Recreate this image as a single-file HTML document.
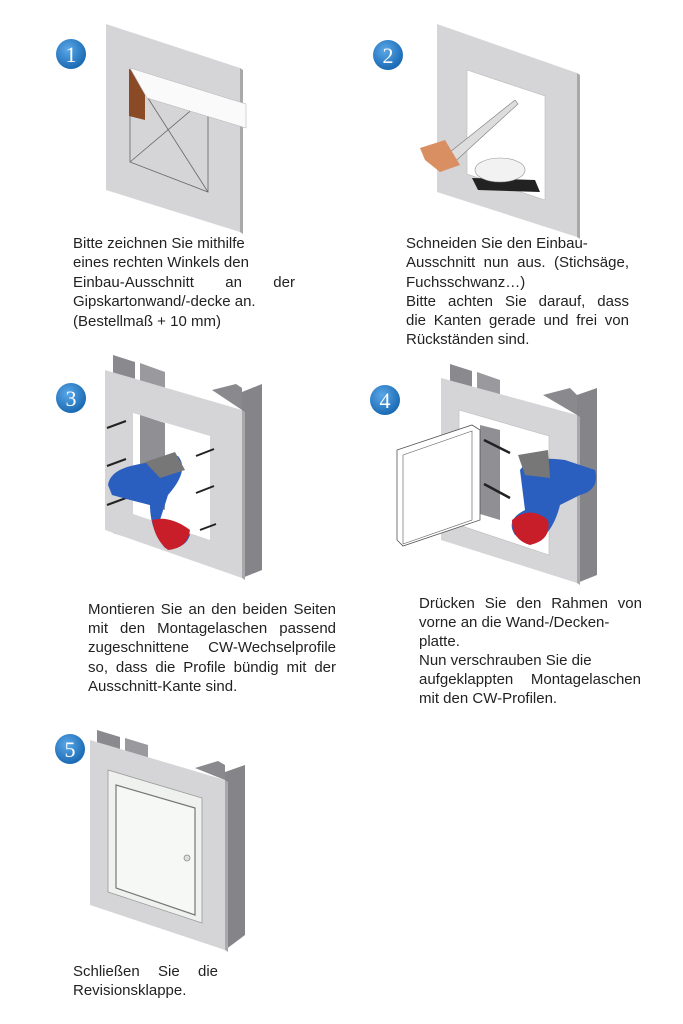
<!DOCTYPE html>
<html><head><meta charset="utf-8"><style>
body{margin:0;background:#fff;width:683px;height:1024px;position:relative;overflow:hidden;font-family:"Liberation Sans",sans-serif;}
svg{position:absolute;left:0;top:0}
.t{position:absolute;font-size:15px;line-height:19.4px;color:#222;white-space:nowrap}
.j{white-space:normal;text-align:justify;text-align-last:justify}
</style></head><body>
<svg width="683" height="1024" viewBox="0 0 683 1024">
<defs>
<radialGradient id="cg" cx="40%" cy="35%" r="70%"><stop offset="0" stop-color="#5aa8e8"/><stop offset="1" stop-color="#1565b0"/></radialGradient>
</defs>
<g font-family="Liberation Serif" font-size="22" fill="#fff" text-anchor="middle">
<circle cx="71" cy="54" r="15" fill="url(#cg)"/><text x="71" y="62">1</text>
<circle cx="388" cy="55" r="15" fill="url(#cg)"/><text x="388" y="63">2</text>
<circle cx="71" cy="398" r="15" fill="url(#cg)"/><text x="71" y="406">3</text>
<circle cx="385" cy="400" r="15" fill="url(#cg)"/><text x="385" y="408">4</text>
<circle cx="70" cy="749" r="15" fill="url(#cg)"/><text x="70" y="757">5</text>
</g>
<!-- Panel 1 -->
<polygon points="106,24 240,68 240,232 106,190" fill="#d5d4d7"/>
<polygon points="240,68 243,70 243,234 240,232" fill="#a9a9ac"/>
<polygon points="130,70 208,96 208,192 130,162" fill="none" stroke="#666" stroke-width="0.8"/>
<line x1="130" y1="70" x2="208" y2="192" stroke="#666" stroke-width="0.8"/>
<line x1="208" y1="96" x2="130" y2="162" stroke="#666" stroke-width="0.8"/>
<polygon points="129,69 145,74 145,120 129,116" fill="#8a4a26"/>
<polygon points="130,68 246,104 246,128 147,98" fill="#fafafa" stroke="#bbb" stroke-width="0.6"/>
<!-- Panel 2 -->
<polygon points="437,24 577,73 577,237 437,192" fill="#d5d4d7"/>
<polygon points="577,73 580,75 580,239 577,237" fill="#a9a9ac"/>
<polygon points="467,70 545,96 545,200 467,174" fill="#fff" stroke="#bbb" stroke-width="0.6"/>
<polygon points="440,160 515,100 518,104 448,168" fill="#ddd" stroke="#777" stroke-width="0.6"/>
<polygon points="420,148 445,140 460,165 440,172 425,160" fill="#d98f62"/>
<polygon points="472,178 535,180 540,192 478,190" fill="#222"/>
<ellipse cx="500" cy="170" rx="25" ry="12" fill="#f2f2f2" stroke="#999" stroke-width="0.6"/>
<!-- Panel 3 -->
<polygon points="113,355 135,362 135,540 113,533" fill="#8a8a8e"/>
<polygon points="140,363 165,372 165,545 140,538" fill="#9a9a9e"/>
<polygon points="212,390 236,384 242,388 242,410" fill="#8a8a8e"/>
<polygon points="242,392 262,384 262,570 242,578" fill="#858589"/>
<polygon points="105,370 242,410 242,578 105,530" fill="#d5d4d7"/>
<polygon points="242,410 245,412 245,580 242,578" fill="#a9a9ac"/>
<polygon points="133,413 210,436 210,540 133,514" fill="#fff"/>
<polygon points="140,415 165,423 165,510 140,502" fill="#909094"/>
<g stroke="#222" stroke-width="2">
<line x1="107" y1="428" x2="126" y2="421"/><line x1="107" y1="466" x2="126" y2="459"/><line x1="107" y1="505" x2="126" y2="498"/>
<line x1="196" y1="456" x2="214" y2="449"/><line x1="196" y1="493" x2="214" y2="486"/><line x1="200" y1="530" x2="216" y2="524"/>
</g>
<path d="M108,485 Q110,470 135,465 L178,456 Q190,470 168,495 L160,520 Q185,520 190,535 Q185,550 165,548 Q150,530 150,505 Q130,500 112,495 Z" fill="#2a5fbf"/>
<path d="M152,520 Q170,515 190,530 Q188,548 168,550 Q155,540 152,520 Z" fill="#c81e2a"/>
<polygon points="145,462 175,452 185,470 160,478" fill="#777"/>
<!-- Panel 4 -->
<polygon points="450,364 472,371 472,545 450,538" fill="#8a8a8e"/>
<polygon points="477,372 500,380 500,550 477,543" fill="#9a9a9e"/>
<polygon points="577,395 597,388 597,575 577,583" fill="#858589"/>
<polygon points="543,395 570,388 577,395 577,415" fill="#8a8a8e"/>
<polygon points="441,378 577,415 577,583 441,540" fill="#d5d4d7"/>
<polygon points="577,415 580,417 580,585 577,583" fill="#a9a9ac"/>
<polygon points="459,410 549,436 549,555 459,525" fill="#fff" stroke="#bbb" stroke-width="0.6"/>
<polygon points="480,425 500,430 500,520 480,514" fill="#909094"/>
<g stroke="#222" stroke-width="2.5"><line x1="484" y1="440" x2="510" y2="453"/><line x1="484" y1="484" x2="510" y2="498"/></g>
<polygon points="397,450 472,425 480,430 480,520 403,546 397,540" fill="#fff" stroke="#555" stroke-width="0.8"/>
<polygon points="403,455 472,431 472,520 403,544" fill="none" stroke="#555" stroke-width="0.6"/>
<path d="M520,470 Q530,455 565,460 L595,470 Q600,490 580,495 L560,505 Q555,525 545,535 Q530,545 515,535 Q505,520 525,510 Z" fill="#2a5fbf"/>
<path d="M512,520 Q530,505 548,520 Q552,540 530,545 Q512,540 512,520 Z" fill="#c81e2a"/>
<polygon points="518,455 548,450 550,478 525,475" fill="#777"/>
<!-- Panel 5 -->
<polygon points="97,730 120,737 120,760 97,753" fill="#8a8a8e"/>
<polygon points="125,738 148,745 148,765 125,758" fill="#9a9a9e"/>
<polygon points="195,768 218,761 225,765 225,780" fill="#8a8a8e"/>
<polygon points="225,772 245,765 245,935 225,950" fill="#858589"/>
<polygon points="90,740 225,780 225,950 90,905" fill="#d5d4d7"/>
<polygon points="225,780 228,782 228,952 225,950" fill="#a9a9ac"/>
<polygon points="108,770 202,798 202,923 108,892" fill="#eef1ee" stroke="#999" stroke-width="0.8"/>
<polygon points="116,785 195,808 195,915 116,888" fill="#f6f8f6" stroke="#777" stroke-width="1.2"/>
<circle cx="187" cy="858" r="3" fill="#ddd" stroke="#888" stroke-width="0.8"/>
</svg>
<div class="t" style="left:73px;top:234px">Bitte zeichnen Sie mithilfe</div>
<div class="t" style="left:73px;top:253px">eines rechten Winkels den</div>
<div class="t j" style="left:73px;top:273px;width:222px">Einbau-Ausschnitt an der</div>
<div class="t" style="left:73px;top:292px">Gipskartonwand/-decke an.</div>
<div class="t" style="left:73px;top:312px">(Bestellmaß + 10 mm)</div>

<div class="t" style="left:406px;top:234px">Schneiden Sie den Einbau-</div>
<div class="t j" style="left:406px;top:253px;width:223px">Ausschnitt nun aus. (Stichsäge,</div>
<div class="t" style="left:406px;top:273px">Fuchsschwanz…)</div>
<div class="t j" style="left:406px;top:292px;width:223px">Bitte achten Sie darauf, dass</div>
<div class="t j" style="left:406px;top:311px;width:223px">die Kanten gerade und frei von</div>
<div class="t" style="left:406px;top:330px">Rückständen sind.</div>

<div class="t j" style="left:88px;top:600px;width:248px">Montieren Sie an den beiden Seiten</div>
<div class="t j" style="left:88px;top:619px;width:248px">mit den Montagelaschen passend</div>
<div class="t j" style="left:88px;top:638px;width:248px">zugeschnittene CW-Wechselprofile</div>
<div class="t j" style="left:88px;top:658px;width:248px">so, dass die Profile bündig mit der</div>
<div class="t" style="left:88px;top:677px">Ausschnitt-Kante sind.</div>

<div class="t j" style="left:419px;top:594px;width:223px">Drücken Sie den Rahmen von</div>
<div class="t" style="left:419px;top:613px">vorne an die Wand-/Decken-</div>
<div class="t" style="left:419px;top:632px">platte.</div>
<div class="t" style="left:419px;top:651px">Nun verschrauben Sie die</div>
<div class="t j" style="left:419px;top:670px;width:222px">aufgeklappten Montagelaschen</div>
<div class="t" style="left:419px;top:689px">mit den CW-Profilen.</div>

<div class="t j" style="left:73px;top:962px;width:145px">Schließen Sie die</div>
<div class="t" style="left:73px;top:981px">Revisionsklappe.</div>
</body></html>
